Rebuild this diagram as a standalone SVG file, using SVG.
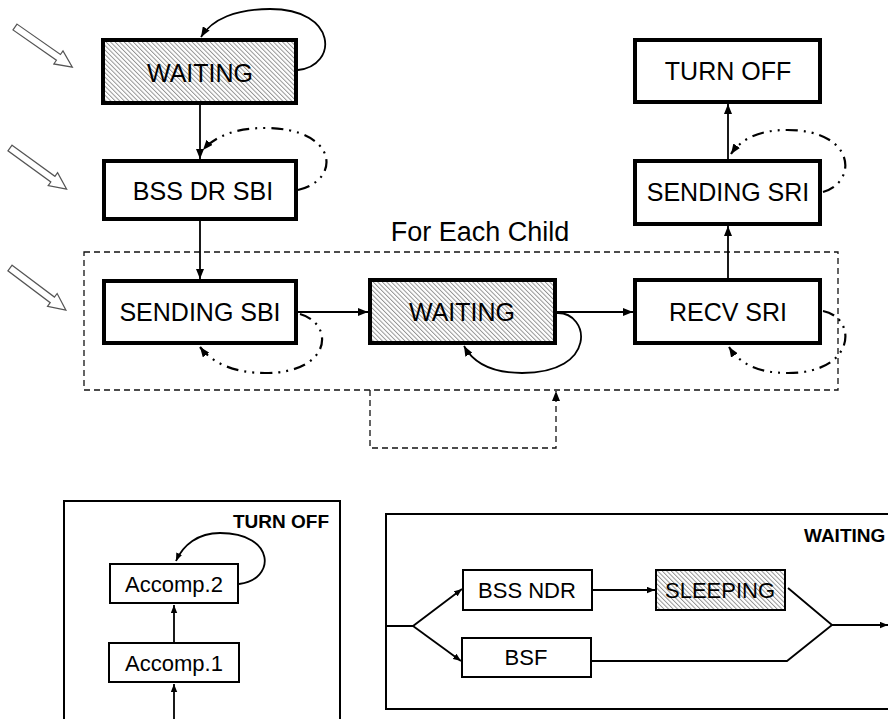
<svg xmlns="http://www.w3.org/2000/svg" width="888" height="719" viewBox="0 0 888 719">
<defs>
<pattern id="hatch" width="3.2" height="3.2" patternUnits="userSpaceOnUse" patternTransform="rotate(-45)">
<rect width="3.2" height="3.2" fill="#fff"/>
<line x1="0.5" y1="0" x2="0.5" y2="3.2" stroke="#8a8a8a" stroke-width="0.9"/>
</pattern>
<marker id="ah" viewBox="0 0 10 8" refX="10" refY="4" markerWidth="10" markerHeight="8" markerUnits="userSpaceOnUse" orient="auto">
<path d="M0,0 L10,4 L0,8 z" fill="#000"/>
</marker>
<marker id="ahs" viewBox="0 0 10 8" refX="10" refY="4" markerWidth="8" markerHeight="7" markerUnits="userSpaceOnUse" orient="auto">
<path d="M0,0 L10,4 L0,8 z" fill="#000"/>
</marker>
<polygon id="hollow" points="0,-3.5 53,-3.5 53,-8 70,0 53,8 53,3.5 0,3.5"/>
</defs>
<style>
text{font-family:"Liberation Sans",Arial,sans-serif;fill:#000}
.big{font-size:25px;text-anchor:middle}
.mid{font-size:22px;text-anchor:middle}
.lbl{font-size:19px;font-weight:bold}
.tb{fill:#fff;stroke:#000;stroke-width:4}
.tbh{fill:url(#hatch);stroke:#000;stroke-width:4}
.sb{fill:#fff;stroke:#000;stroke-width:2}
.sbh{fill:url(#hatch);stroke:#000;stroke-width:2}
.frame{fill:none;stroke:#000;stroke-width:2}
.c{fill:none;stroke:#000;stroke-width:1.8}
.cd{fill:none;stroke:#000;stroke-width:2.2;stroke-dasharray:12 6 2 6 2 6}
.dash{fill:none;stroke:#111;stroke-width:1.3;stroke-dasharray:6 4}
.ho{fill:#fff;stroke:#555;stroke-width:1.2}
</style>

<g id="entry-arrows">
<use href="#hollow" class="ho" transform="translate(15,27) rotate(35)"/>
<use href="#hollow" class="ho" transform="translate(10,148) rotate(36)"/>
<use href="#hollow" class="ho" transform="translate(10,268) rotate(37)"/>
</g>

<g id="child-group">
<rect x="84" y="252" width="754" height="138" class="dash"/>
<text x="480" y="241" style="font-size:27px;text-anchor:middle">For Each Child</text>
</g>

<g id="connectors">
<line x1="200" y1="105" x2="200" y2="159" class="c" marker-end="url(#ah)"/>
<line x1="200" y1="221" x2="200" y2="279" class="c" marker-end="url(#ah)"/>
<line x1="298" y1="312" x2="368" y2="312" class="c" marker-end="url(#ah)"/>
<line x1="557" y1="312" x2="633" y2="312" class="c" marker-end="url(#ah)"/>
<line x1="728" y1="279" x2="728" y2="226" class="c" marker-end="url(#ah)"/>
<line x1="728" y1="159" x2="728" y2="104" class="c" marker-end="url(#ah)"/>
<path d="M298,70 C338,66 338,9 270,9 C236,9 212,19 201,37" class="c" marker-end="url(#ah)"/>
<path d="M557,313 C590,312 598,373 522,373 C494,373 474,364 464,346" class="c" marker-end="url(#ah)"/>
<path d="M298,190 C342,180 338,128 265,128 C236,128 215,136 203,150" class="cd" marker-end="url(#ah)"/>
<path d="M300,314 C335,324 332,373 265,373 C234,373 212,363 200,347" class="cd" marker-end="url(#ah)"/>
<path d="M823,311 C858,318 856,373 788,373 C758,373 740,364 729,347" class="cd" marker-end="url(#ah)"/>
<path d="M823,192 C858,182 856,130 787,130 C760,130 742,138 731,154" class="cd" marker-end="url(#ah)"/>
<path d="M370,390 V448 H556 V391" class="dash" marker-end="url(#ah)"/>
</g>

<g id="waiting-top"><rect x="103" y="40" width="193" height="63" class="tbh"/><text x="200" y="82" class="big">WAITING</text></g>
<g id="bss-dr-sbi"><rect x="104" y="161" width="192" height="58" class="tb"/><text x="203" y="200" class="big">BSS DR SBI</text></g>
<g id="sending-sbi"><rect x="104" y="281" width="192" height="62" class="tb"/><text x="200" y="321" class="big">SENDING SBI</text></g>
<g id="waiting-child"><rect x="370" y="280" width="185" height="63" class="tbh"/><text x="462" y="321" class="big">WAITING</text></g>
<g id="recv-sri"><rect x="635" y="280" width="185" height="63" class="tb"/><text x="728" y="321" class="big">RECV SRI</text></g>
<g id="sending-sri"><rect x="635" y="161" width="185" height="63" class="tb"/><text x="728" y="201" class="big">SENDING SRI</text></g>
<g id="turn-off"><rect x="635" y="40" width="185" height="62" class="tb"/><text x="728" y="80" class="big">TURN OFF</text></g>

<g id="turnoff-detail">
<rect x="64" y="501" width="276" height="240" class="frame"/>
<text x="329" y="528" class="lbl" text-anchor="end">TURN OFF</text>
<g id="accomp2"><rect x="110" y="564" width="128" height="39" class="sb"/><text x="174" y="592" class="mid">Accomp.2</text></g>
<g id="accomp1"><rect x="109" y="643" width="130" height="39" class="sb"/><text x="174" y="671" class="mid">Accomp.1</text></g>
<g id="turnoff-connectors">
<line x1="174" y1="642" x2="174" y2="605" class="c" marker-end="url(#ahs)"/>
<line x1="174" y1="719" x2="174" y2="684" class="c" marker-end="url(#ahs)"/>
<path d="M239,584 C276,580 276,533 220,533 C198,533 183,545 176,561" class="c" marker-end="url(#ahs)"/>
</g>
</g>

<g id="waiting-detail">
<rect x="386" y="514" width="520" height="195" class="frame"/>
<text x="804" y="542" class="lbl">WAITING</text>
<g id="bss-ndr"><rect x="463" y="570" width="129" height="40" class="sb"/><text x="527" y="598" class="mid">BSS NDR</text></g>
<g id="sleeping"><rect x="656" y="570" width="129" height="40" class="sbh"/><text x="720" y="598" class="mid">SLEEPING</text></g>
<g id="bsf"><rect x="462" y="638" width="129" height="39" class="sb"/><text x="526" y="665" class="mid">BSF</text></g>
<g id="waiting-connectors">
<path d="M386,626 H413 L462,589" class="c" marker-end="url(#ahs)"/>
<path d="M413,626 L461,661" class="c" marker-end="url(#ahs)"/>
<line x1="593" y1="590" x2="655" y2="590" class="c" marker-end="url(#ahs)"/>
<path d="M788,588 L832,625 M592,661 H787 L832,625" class="c"/>
<line x1="832" y1="625" x2="888" y2="625" class="c" marker-end="url(#ahs)"/>
</g>
</g>
</svg>
